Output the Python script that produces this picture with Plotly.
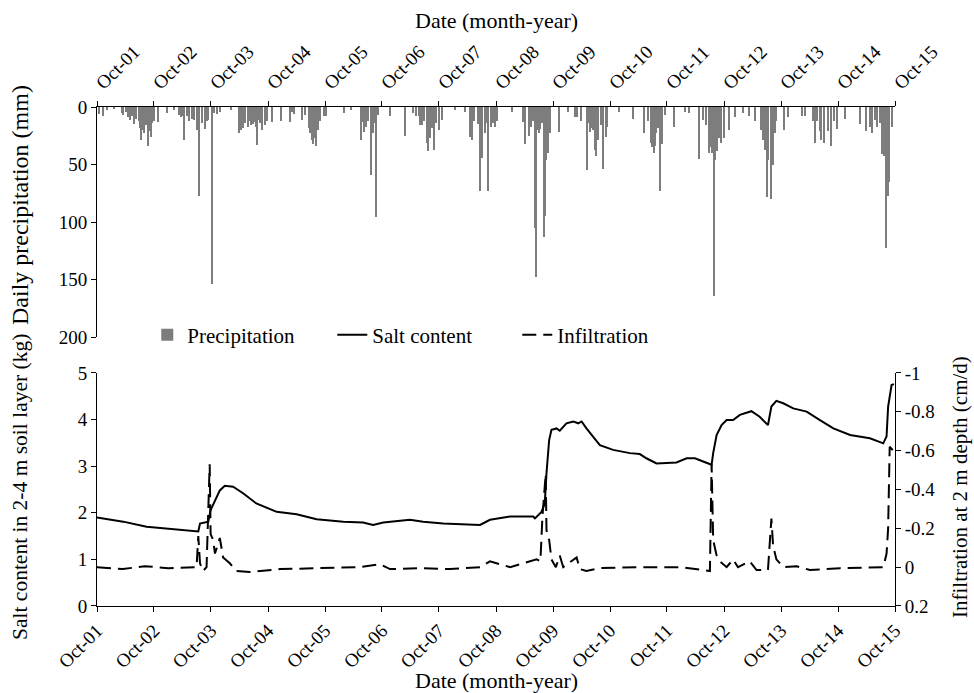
import plotly.graph_objects as go

# ---------------- data ----------------
years = list(range(2001, 2016))
tick_dates = [f"{y}-10-01" for y in years]
tick_labels = [f"Oct-{y % 100:02d}" for y in years]

precip_dates = [
    "2001-10-15", "2001-11-10", "2001-12-05", "2002-01-20", "2002-03-12", "2002-03-20",
    "2002-04-05", "2002-04-18", "2002-05-02", "2002-05-12", "2002-05-25", "2002-06-10",
    "2002-06-25", "2002-07-04", "2002-07-11", "2002-07-18", "2002-08-01", "2002-08-10",
    "2002-08-22", "2002-09-01", "2002-09-10", "2002-09-20", "2002-10-03", "2002-10-25",
    "2002-12-23", "2003-02-10", "2003-03-08", "2003-03-25", "2003-04-08", "2003-04-15",
    "2003-04-29", "2003-05-15", "2003-06-01", "2003-06-15", "2003-07-05", "2003-07-20",
    "2003-08-05", "2003-08-25", "2003-09-05", "2003-09-15", "2003-10-07", "2003-10-20",
    "2003-11-10", "2003-12-01", "2004-02-05", "2004-03-28", "2004-04-05", "2004-04-12",
    "2004-04-25", "2004-05-10", "2004-05-25", "2004-06-02", "2004-06-12", "2004-06-20",
    "2004-06-28", "2004-07-05", "2004-07-15", "2004-07-25", "2004-08-02", "2004-08-10",
    "2004-08-25", "2004-09-10", "2004-09-25", "2004-10-26", "2004-12-23", "2005-02-20",
    "2005-03-01", "2005-03-15", "2005-05-10", "2005-05-25", "2005-06-18", "2005-06-28",
    "2005-07-08", "2005-07-14", "2005-07-25", "2005-08-01", "2005-08-08", "2005-08-15",
    "2005-08-28", "2005-09-25", "2005-10-05", "2005-10-10", "2006-01-29", "2006-03-20",
    "2006-05-20", "2006-05-30", "2006-06-10", "2006-06-20", "2006-07-05", "2006-07-23",
    "2006-08-02", "2006-08-12", "2006-08-26", "2006-09-04", "2006-11-23", "2007-02-28",
    "2007-04-20", "2007-05-08", "2007-05-25", "2007-06-05", "2007-06-15", "2007-06-28",
    "2007-07-15", "2007-07-22", "2007-08-04", "2007-08-15", "2007-08-28", "2007-09-10",
    "2007-10-01", "2007-10-20", "2008-01-15", "2008-03-16", "2008-04-19", "2008-05-01",
    "2008-05-15", "2008-06-05", "2008-06-22", "2008-07-01", "2008-07-05", "2008-07-20",
    "2008-07-30", "2008-08-14", "2008-08-28", "2008-09-10", "2008-09-15", "2008-09-25",
    "2008-10-08", "2009-01-10", "2009-03-25", "2009-04-08", "2009-04-30", "2009-05-15",
    "2009-05-28", "2009-06-08", "2009-06-17", "2009-06-25", "2009-07-05", "2009-07-12",
    "2009-07-22", "2009-08-05", "2009-08-12", "2009-08-20", "2009-08-30", "2009-09-12",
    "2009-11-06", "2010-01-08", "2010-02-20", "2010-03-05", "2010-04-01", "2010-05-05",
    "2010-05-15", "2010-05-28", "2010-06-08", "2010-06-15", "2010-06-25", "2010-07-05",
    "2010-07-20", "2010-08-05", "2010-08-21", "2010-09-05", "2010-09-15", "2010-12-01",
    "2011-02-28", "2011-05-08", "2011-06-05", "2011-06-22", "2011-07-01", "2011-07-08",
    "2011-07-14", "2011-07-25", "2011-08-05", "2011-08-18", "2011-08-30", "2011-09-20",
    "2011-11-16", "2012-01-25", "2012-02-20", "2012-04-25", "2012-05-20", "2012-06-10",
    "2012-06-27", "2012-07-04", "2012-07-15", "2012-07-26", "2012-08-05", "2012-08-16",
    "2012-08-27", "2012-09-13", "2012-09-28", "2012-11-03", "2012-12-11", "2013-01-28",
    "2013-03-10", "2013-04-18", "2013-05-23", "2013-06-08", "2013-06-20", "2013-07-01",
    "2013-07-12", "2013-07-27", "2013-08-08", "2013-08-22", "2013-08-30", "2013-10-18",
    "2013-11-14", "2014-02-15", "2014-03-05", "2014-04-25", "2014-05-07", "2014-05-20",
    "2014-06-08", "2014-06-17", "2014-07-07", "2014-07-28", "2014-08-18", "2014-09-05",
    "2014-09-24", "2014-11-17", "2015-02-21", "2015-04-02", "2015-04-22", "2015-05-08",
    "2015-05-25", "2015-06-11", "2015-06-28", "2015-07-13", "2015-07-22", "2015-08-05",
    "2015-08-13", "2015-08-20", "2015-08-26", "2015-09-15",
]
precip_mm = [
    6, 8, 3, 2, 5, 7,
    4, 9, 11, 8, 15, 10,
    12, 18, 29, 20, 23, 16,
    34, 21, 26, 14, 12, 13,
    5, 3, 7, 9, 8, 29,
    8, 12, 10, 11, 20, 77,
    14, 19, 12, 11, 154, 5,
    6, 4, 3, 23, 12, 20,
    18, 14, 17, 12, 16, 10,
    15, 13, 17, 33, 11, 14,
    20, 16, 12, 13, 12, 13,
    4, 6, 11, 7, 18, 23,
    29, 32, 27, 21, 34, 20,
    12, 8, 8, 5, 5, 3,
    29, 13, 22, 17, 12, 59,
    23, 14, 96, 7, 8, 25,
    5, 8, 8, 16, 16, 12,
    31, 38, 27, 18, 37, 14,
    20, 11, 3, 4, 26, 29,
    12, 15, 73, 29, 44, 23,
    14, 73, 17, 12, 14, 17,
    12, 4, 13, 32, 25, 17,
    12, 105, 148, 20, 23, 19,
    14, 113, 95, 46, 40, 23,
    22, 4, 9, 9, 12, 55,
    14, 22, 18, 20, 37, 43,
    29, 16, 54, 26, 17, 4,
    10, 23, 12, 31, 35, 40,
    34, 23, 18, 73, 32, 7,
    17, 4, 5, 45, 11, 16,
    40, 35, 40, 164, 46, 38,
    27, 31, 27, 20, 9, 5,
    8, 12, 20, 29, 37, 78,
    46, 80, 50, 23, 12, 20,
    9, 8, 8, 12, 31, 12,
    21, 29, 31, 21, 34, 12,
    19, 10, 15, 21, 17, 23,
    11, 17, 14, 41, 43, 123,
    56, 77, 65, 17,
]

salt_dates = [
    "2001-10-01", "2002-03-18", "2002-08-15", "2003-02-03", "2003-07-12", "2003-07-23",
    "2003-09-14", "2003-09-29", "2003-10-26", "2003-11-27", "2003-12-29", "2004-02-20",
    "2004-04-24", "2004-07-18", "2004-11-25", "2005-04-02", "2005-08-08", "2006-01-26",
    "2006-06-02", "2006-08-05", "2006-10-09", "2007-03-29", "2007-06-22", "2007-10-28",
    "2008-06-20", "2008-08-23", "2008-12-30", "2009-05-27", "2009-06-07", "2009-07-19",
    "2009-08-09", "2009-08-20", "2009-09-06", "2009-09-21", "2009-10-23", "2009-11-13",
    "2009-12-26", "2010-02-07", "2010-03-11", "2010-04-02", "2010-05-03", "2010-07-28",
    "2010-10-21", "2011-02-05", "2011-04-10", "2011-05-22", "2011-07-26", "2011-12-01",
    "2012-02-04", "2012-03-28", "2012-05-20", "2012-07-13", "2012-07-23", "2012-08-14",
    "2012-09-15", "2012-10-17", "2012-11-28", "2013-01-10", "2013-03-25", "2013-05-17",
    "2013-07-09", "2013-07-31", "2013-09-01", "2013-10-15", "2013-12-18", "2014-03-14",
    "2014-06-07", "2014-09-01", "2014-12-17", "2015-04-23", "2015-07-18", "2015-08-08",
    "2015-08-18", "2015-09-09", "2015-09-24",
]
salt_kg = [
    1.90, 1.81, 1.70, 1.65, 1.60, 1.77,
    1.81, 2.06, 2.27, 2.48, 2.58, 2.56,
    2.42, 2.20, 2.02, 1.97, 1.86, 1.81,
    1.79, 1.74, 1.79, 1.85, 1.81, 1.77,
    1.74, 1.85, 1.92, 1.92, 1.88, 2.02,
    2.20, 2.85, 3.56, 3.78, 3.81, 3.76,
    3.92, 3.96, 3.92, 3.96, 3.81, 3.45,
    3.35, 3.28, 3.26, 3.17, 3.06, 3.08,
    3.17, 3.17, 3.10, 3.03, 3.28, 3.67,
    3.88, 3.99, 3.99, 4.10, 4.18, 4.06,
    3.88, 4.28, 4.40, 4.35, 4.24, 4.17,
    3.99, 3.81, 3.67, 3.60, 3.49, 3.64,
    4.28, 4.74, 4.76,
]

infil_dates = [
    "2001-10-01", "2002-03-15", "2002-08-01", "2003-01-01", "2003-07-01", "2003-07-12",
    "2003-07-23", "2003-08-11", "2003-09-03", "2003-09-23", "2003-09-29", "2003-10-15",
    "2003-10-27", "2003-11-27", "2003-12-18", "2004-01-30", "2004-03-13", "2004-06-06",
    "2004-12-17", "2005-08-29", "2006-05-12", "2006-09-18", "2006-11-21", "2007-06-01",
    "2007-12-11", "2008-06-20", "2008-08-23", "2008-12-30", "2009-06-18", "2009-07-12",
    "2009-07-19", "2009-07-25", "2009-08-15", "2009-08-20", "2009-09-06", "2009-09-21",
    "2009-10-19", "2009-11-13", "2009-12-05", "2010-03-01", "2010-03-22", "2010-05-03",
    "2010-07-28", "2011-04-10", "2011-12-29", "2012-07-02", "2012-07-13", "2012-07-23",
    "2012-08-14", "2012-09-04", "2012-10-17", "2012-11-28", "2012-12-29", "2013-03-14",
    "2013-04-27", "2013-07-09", "2013-07-31", "2013-08-11", "2013-09-01", "2013-10-15",
    "2014-01-09", "2014-04-04", "2014-10-14", "2015-07-18", "2015-08-08", "2015-08-18",
    "2015-08-28", "2015-09-20",
]
infil_cmd = [
    0.00, 0.01, -0.005, 0.005, 0.00, -0.16,
    -0.02, 0.02, 0.00, -0.53, -0.17, -0.14,
    -0.07, -0.15, -0.05, -0.02, 0.02, 0.025,
    0.01, 0.005, 0.00, -0.015, 0.01, 0.005,
    0.01, 0.00, -0.03, 0.00, -0.04, -0.03,
    -0.14, -0.26, -0.48, -0.19, -0.14, -0.04,
    0.00, -0.06, 0.00, -0.05, 0.01, 0.02,
    0.005, 0.00, 0.00, 0.02, -0.53, -0.14,
    -0.06, -0.03, 0.00, -0.04, 0.00, -0.03,
    0.015, 0.015, -0.25, -0.11, -0.04, 0.00,
    -0.005, 0.015, 0.005, 0.00, -0.07, -0.20,
    -0.62, -0.60,
]

infil_ticks = [-1, -0.8, -0.6, -0.4, -0.2, 0, 0.2]
infil_ticktext = ["-1", "-0.8", "-0.6", "-0.4", "-0.2", "0", "0.2"]

# ---------------- figure ----------------
FONT = "Liberation Serif, Times New Roman, serif"
DAY_MS = 86400000
TICK_SIZE = 19
TITLE_SIZE = 22

fig = go.Figure()
fig.add_trace(go.Bar(
    x=precip_dates, y=precip_mm, name="Precipitation",
    width=DAY_MS * 8, marker=dict(color="#7d7d7d", line=dict(width=0)),
    xaxis="x", yaxis="y",
))
fig.add_trace(go.Scatter(
    x=salt_dates, y=salt_kg, name="Salt content", mode="lines",
    line=dict(color="black", width=2),
    xaxis="x2", yaxis="y2",
))
fig.add_trace(go.Scatter(
    x=infil_dates, y=infil_cmd, name="Infiltration", mode="lines",
    line=dict(color="black", width=2, dash="14px,7px"),
    xaxis="x2", yaxis="y3",
))

axis_common = dict(
    showgrid=False, zeroline=False, showline=True, linecolor="black", linewidth=1,
    ticks="outside", ticklen=5, tickcolor="black",
    tickfont=dict(family=FONT, size=TICK_SIZE, color="black"),
)
xr = ["2001-10-01", "2015-10-01"]


def title_ann(text, x, y, size, angle=0):
    return dict(text=text, x=x, y=y, xref="paper", yref="paper",
                xanchor="center", yanchor="middle", showarrow=False,
                textangle=angle, font=dict(family=FONT, size=size, color="black"))


fig.update_layout(
    width=974, height=693,
    paper_bgcolor="white", plot_bgcolor="white",
    margin=dict(l=97, r=79, t=107, b=87),
    font=dict(family=FONT, size=TICK_SIZE, color="black"),
    bargap=0,
    showlegend=True,
    legend=dict(
        orientation="h", x=0.063, y=0.543, xanchor="left", yanchor="middle",
        font=dict(family=FONT, size=21, color="black"),
        bgcolor="rgba(0,0,0,0)", traceorder="normal",
        entrywidth=140, entrywidthmode="pixels",
    ),
    xaxis=dict(
        **axis_common, domain=[0, 1], anchor="y", side="top", type="date", range=xr,
        tickvals=tick_dates, ticktext=tick_labels, tickangle=-45,
    ),
    yaxis=dict(
        **axis_common, domain=[0.539, 1], anchor="x", range=[200, 0],
        tickvals=[0, 50, 100, 150, 200],
    ),
    xaxis2=dict(
        **axis_common, domain=[0, 1], anchor="y2", side="bottom", type="date", range=xr,
        tickvals=tick_dates, ticktext=tick_labels, tickangle=-45,
    ),
    yaxis2=dict(
        **axis_common, domain=[0, 0.467], anchor="x2", range=[0, 5], dtick=1,
    ),
    yaxis3=dict(
        **axis_common, overlaying="y2", anchor="x2", side="right", range=[0.2, -1],
        tickvals=infil_ticks, ticktext=infil_ticktext,
    ),
    annotations=[
        title_ann("Date (month-year)", 0.5, 1.1743, TITLE_SIZE),
        title_ann("Date (month-year)", 0.5, -0.1483, TITLE_SIZE),
        title_ann("Daily precipitation (mm)", -0.0965, 0.8036, 24, -90),
        title_ann("Salt content in 2-4 m soil layer (kg)", -0.0965, 0.2385, 21.5, -90),
        title_ann("Infiltration at 2 m depth (cm/d)", 1.0815, 0.2385, 21, -90),
    ],
)

fig.write_html(
    "out.html",
    config={"displayModeBar": False},
    post_script="document.body.style.margin='0';document.body.style.overflow='hidden';",
)
